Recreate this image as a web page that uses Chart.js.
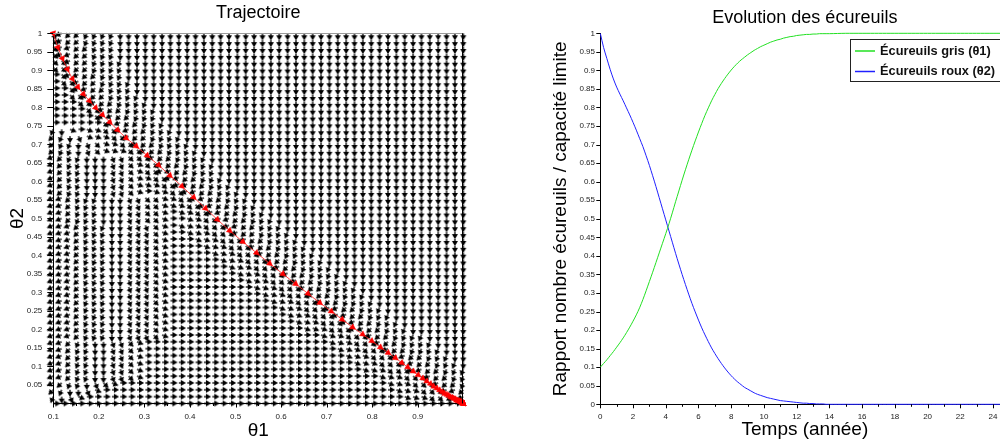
<!DOCTYPE html>
<html lang="fr">
<head>
<meta charset="utf-8">
<title>Écureuils</title>
<script src="https://cdn.jsdelivr.net/npm/chart.js@4.4.1/dist/chart.umd.min.js"></script>
<style>
  html, body { margin: 0; padding: 0; background: #fff; }
  #page { position: relative; width: 1000px; height: 445px; overflow: hidden; }
  #page canvas { position: absolute; top: 0; }
</style>
</head>
<body>
<div id="page">
  <canvas id="trajectoire" width="500" height="445" style="left:0"></canvas>
  <canvas id="evolution" width="520" height="445" style="left:500px"></canvas>
</div>
<script>
// ------------------ DATA ------------------
// time (years) and population ratios
const years = [
  0, 0.2, 0.4, 0.6, 0.8, 1, 1.2, 1.4, 1.6, 1.8,
  2, 2.2, 2.4, 2.6, 2.8, 3, 3.2, 3.4, 3.6, 3.8,
  4, 4.2, 4.4, 4.6, 4.8, 5, 5.2, 5.4, 5.6, 5.8,
  6, 6.2, 6.4, 6.6, 6.8, 7, 7.2, 7.4, 7.6, 7.8,
  8, 8.2, 8.4, 8.6, 8.8, 9, 9.2, 9.4, 9.6, 9.8,
  10, 10.2, 10.4, 10.6, 10.8, 11, 11.2, 11.4, 11.6, 11.8,
  12, 12.2, 12.4, 12.6, 12.8, 13, 13.2, 13.4, 13.6, 13.8,
  14, 15, 16, 17, 18, 19, 20, 21, 22, 23, 24, 25
];
const grisValues = [
  0.100, 0.110, 0.120, 0.131, 0.142, 0.154, 0.166, 0.179, 0.193, 0.208,
  0.224, 0.241, 0.260, 0.282, 0.306, 0.331, 0.356, 0.382, 0.408, 0.434,
  0.460, 0.487, 0.516, 0.546, 0.575, 0.604, 0.632, 0.659, 0.685, 0.710,
  0.734, 0.757, 0.779, 0.799, 0.818, 0.835, 0.851, 0.865, 0.878, 0.890,
  0.901, 0.911, 0.920, 0.928, 0.935, 0.942, 0.948, 0.954, 0.959, 0.964,
  0.968, 0.972, 0.976, 0.979, 0.982, 0.984, 0.987, 0.989, 0.991, 0.992,
  0.994, 0.995, 0.996, 0.997, 0.997, 0.998, 0.998, 0.999, 0.999, 0.999,
  0.999, 1, 1, 1, 1, 1, 1, 1, 1, 1, 1, 1
];
const rouxValues = [
  1.000, 0.962, 0.932, 0.903, 0.877, 0.855, 0.836, 0.818, 0.799, 0.780,
  0.760, 0.739, 0.717, 0.695, 0.670, 0.644, 0.616, 0.587, 0.557, 0.527,
  0.497, 0.467, 0.437, 0.407, 0.378, 0.350, 0.323, 0.297, 0.272, 0.249,
  0.227, 0.206, 0.187, 0.169, 0.152, 0.137, 0.123, 0.110, 0.098, 0.087,
  0.077, 0.068, 0.060, 0.053, 0.046, 0.041, 0.036, 0.031, 0.027, 0.024,
  0.021, 0.018, 0.016, 0.014, 0.012, 0.010, 0.009, 0.008, 0.007, 0.006,
  0.005, 0.004, 0.003, 0.003, 0.002, 0.002, 0.001, 0.001, 0.001, 0.000,
  0, 0, 0, 0, 0, 0, 0, 0, 0, 0, 0, 0
];

// vector field grid (columns = θ1, rows = θ2 from top to bottom)
const fieldTheta1 = [
  0.1000, 0.1184, 0.1367, 0.1551, 0.1735, 0.1918, 0.2102, 0.2286, 0.2469, 0.2653,
  0.2837, 0.3020, 0.3204, 0.3388, 0.3571, 0.3755, 0.3939, 0.4122, 0.4306, 0.4490,
  0.4673, 0.4857, 0.5041, 0.5224, 0.5408, 0.5592, 0.5776, 0.5959, 0.6143, 0.6327,
  0.6510, 0.6694, 0.6878, 0.7061, 0.7245, 0.7429, 0.7612, 0.7796, 0.7980, 0.8163,
  0.8347, 0.8531, 0.8714, 0.8898, 0.9082, 0.9265, 0.9449, 0.9633, 0.9816, 1.0000
];
const fieldTheta2 = [
  1.0000, 0.9815, 0.9630, 0.9444, 0.9259, 0.9074, 0.8889, 0.8704, 0.8519, 0.8333,
  0.8148, 0.7963, 0.7778, 0.7593, 0.7407, 0.7222, 0.7037, 0.6852, 0.6667, 0.6481,
  0.6296, 0.6111, 0.5926, 0.5741, 0.5556, 0.5370, 0.5185, 0.5000, 0.4815, 0.4630,
  0.4444, 0.4259, 0.4074, 0.3889, 0.3704, 0.3519, 0.3333, 0.3148, 0.2963, 0.2778,
  0.2593, 0.2407, 0.2222, 0.2037, 0.1852, 0.1667, 0.1481, 0.1296, 0.1111, 0.0926,
  0.0741, 0.0556, 0.0370, 0.0185, 0.0000
];
// one char per arrow: position in DIRECTION_CODES x 22.5 deg (0 right, 4 up, 8 left, C down), '.' = none
const DIRECTION_CODES = '0123456789ABCDEF';
const fieldRows = [
  'D9AABBBBCC CCCCCCCCCC CCCCCCCCCC CCCCCCCCCC CCCCCCCCCC',
  'E9AABBBBCC CCCCCCCCCC CCCCCCCCCC CCCCCCCCCC CCCCCCCCCC',
  'E99AABBBCC CCCCCCCCCC CCCCCCCCCC CCCCCCCCCC CCCCCCCCCC',
  'E99AABBBCC CCCCCCCCCC CCCCCCCCCC CCCCCCCCCC CCCCCCCCCC',
  'EE9AABBBBC CCCCCCCCCC CCCCCCCCCC CCCCCCCCCC CCCCCCCCCC',
  'EE9AABBBBC CCCCCCCCCC CCCCCCCCCC CCCCCCCCCC CCCCCCCCCC',
  '0E99AABBBC CCCCCCCCCC CCCCCCCCCC CCCCCCCCCC CCCCCCCCCC',
  '0EE9AABBBB CCCCCCCCCC CCCCCCCCCC CCCCCCCCCC CCCCCCCCCC',
  '00E99AABBB CCCCCCCCCC CCCCCCCCCC CCCCCCCCCC CCCCCCCCCC',
  '00EE9AABBB BCCCCCCCCC CCCCCCCCCC CCCCCCCCCC CCCCCCCCCC',
  '000EE9AABB BBCCCCCCCC CCCCCCCCCC CCCCCCCCCC CCCCCCCCCC',
  '0000EE9AAB BBBCCCCCCC CCCCCCCCCC CCCCCCCCCC CCCCCCCCCC',
  '00000E99AA BBBCCCCCCC CCCCCCCCCC CCCCCCCCCC CCCCCCCCCC',
  '000000E99A ABBBCCCCCC CCCCCCCCCC CCCCCCCCCC CCCCCCCCCC',
  'BCF0FFEE99 AABBBCCCCC CCCCCCCCCC CCCCCCCCCC CCCCCCCCCC',
  'ABCDFFFEE9 AABBBBCCCC CCCCCCCCCC CCCCCCCCCC CCCCCCCCCC',
  'ABBCDEFFEE 9AABBBBCCC CCCCCCCCCC CCCCCCCCCC CCCCCCCCCC',
  'ABBCDEFFFE E9AABBBBCC CCCCCCCCCC CCCCCCCCCC CCCCCCCCCC',
  '9ABBCCCDDE EE9AABBBBC CCCCCCCCCC CCCCCCCCCC CCCCCCCCCC',
  '9ABBCCCDDE FEE9AABBBB CCCCCCCCCC CCCCCCCCCC CCCCCCCCCC',
  '9ABBCCCDDE FEE99AABBB CCCCCCCCCC CCCCCCCCCC CCCCCCCCCC',
  '9ABBCCCDDE FFEE99AABB BCCCCCCCCC CCCCCCCCCC CCCCCCCCCC',
  '9ABBCCCDDE FFFEE99AAB BBCCCCCCCC CCCCCCCCCC CCCCCCCCCC',
  '9ABBCCCDDE F0FFEE99AA BBBCCCCCCC CCCCCCCCCC CCCCCCCCCC',
  '99ABBBCCCD DEEFFEE99A ABBBCCCCCC CCCCCCCCCC CCCCCCCCCC',
  '99ABBBCCCD DEEFFFEE99 AABBBCCCCC CCCCCCCCCC CCCCCCCCCC',
  '99ABBBCCCD DEEF0FFEE9 9AABBBCCCC CCCCCCCCCC CCCCCCCCCC',
  '99ABBBCCCD DEEF00FFEE 99AABBBCCC CCCCCCCCCC CCCCCCCCCC',
  '999ABBBCCD DDEF0FFFEE E99AABBBCC CCCCCCCCCC CCCCCCCCCC',
  '999ABBBCCD DDEF00FFFE EE9AABBBBC CCCCCCCCCC CCCCCCCCCC',
  '999ABBBCCD DDEF000FFF EEE9AABBBB CCCCCCCCCC CCCCCCCCCC',
  '999ABBBCCD DDEF0000FF FEEE9AABBB BCCCCCCCCC CCCCCCCCCC',
  '999ABBBCCD DDEF00000F FFEEE9AABB BBCCCCCCCC CCCCCCCCCC',
  '999ABBBCCD DDEF000000 FFFEEE9AAB BBBCCCCCCC CCCCCCCCCC',
  '999ABBBCCD DDEF000000 0FFFEEE9AA BBBBCCCCCC CCCCCCCCCC',
  '999ABBBCCD DDEF000000 00FFFEEE9A ABBBBCCCCC CCCCCCCCCC',
  '999ABBBCCD DDEF000000 000FFFEEE9 AABBBBCCCC CCCCCCCCCC',
  '999ABBBCCD DDEF000000 0000FFFEEE 9AABBBBCCC CCCCCCCCCC',
  '999ABBBCCD DDEF000000 00000FFFEE E9AABBBBCC CCCCCCCCCC',
  '999ABBBCCD DDEF000000 000000FFFE EE9AABBBBC CCCCCCCCCC',
  '999ABBBCCD DDEF000000 0000000FFF EEE99AABBB CCCCCCCCCC',
  '999ABBBCCD DDEF000000 00000000FF FEEE99AABB BCCCCCCCCC',
  '999ABBBCCD DDEF000000 000000000F FFEEE99AAB BBCCCCCCCC',
  '999ABBBCCD DDEF000000 0000000000 FFFEEE99AA BBBCCCCCCC',
  '999ABBBCCD DDEF000000 0000000000 00FFFEEE9A ABBBBCCCCC',
  '99ABBCCDDE F000000000 0000000000 000FFFEEE9 AABBBBCCCC',
  '99ABBCCDDE F000000000 0000000000 0000FFFEEE 9AABBBBCCC',
  '99ABBCCDDE F000000000 0000000000 00000FFFEE E99AABBBCC',
  '99ABBCCDDE F000000000 0000000000 000000FFFE EE99AABBBC',
  '99ABBCCDDE F000000000 0000000000 0000000FFF EEE99AABBB',
  '99ABBCCDDE F000000000 0000000000 000000000F FFEEE9AABB',
  '9ABBCDEF00 0000000000 0000000000 0000000000 FFFEEE9AAB',
  'ABCCDF0000 0000000000 0000000000 0000000000 0FFFEEE99A',
  'BCDF000000 0000000000 0000000000 0000000000 00FFFEEE99',
  '0000000000 0000000000 0000000000 0000000000 000000000.'
];

// tick labels
const trajXTicks = [0.1, 0.2, 0.3, 0.4, 0.5, 0.6, 0.7, 0.8, 0.9];
const trajXMinor = [0.15, 0.25, 0.35, 0.45, 0.55, 0.65, 0.75, 0.85, 0.95];
const trajYTicks = [0.05, 0.1, 0.15, 0.2, 0.25, 0.3, 0.35, 0.4, 0.45, 0.5,
                    0.55, 0.6, 0.65, 0.7, 0.75, 0.8, 0.85, 0.9, 0.95, 1];
const evoXTicks = [0, 2, 4, 6, 8, 10, 12, 14, 16, 18, 20, 22, 24];
const evoXMinor = [1, 3, 5, 7, 9, 11, 13, 15, 17, 19, 21, 23, 25];
const evoYTicks = [0, 0.05, 0.1, 0.15, 0.2, 0.25, 0.3, 0.35, 0.4, 0.45, 0.5,
                   0.55, 0.6, 0.65, 0.7, 0.75, 0.8, 0.85, 0.9, 0.95, 1];

// ------------------ HELPERS ------------------
Chart.defaults.font.family = '"Liberation Sans", Arial, Helvetica, sans-serif';
Chart.defaults.color = '#222';

function makeArrowGlyph() {
    // champ-like arrow starting at the canvas centre, pointing right
    const cv = document.createElement('canvas');
    cv.width = 20;
    cv.height = 20;
    const g = cv.getContext('2d');
    g.strokeStyle = '#000';
    g.fillStyle = '#000';
    g.lineWidth = 1.3;
    g.beginPath();
    g.moveTo(10, 10);
    g.lineTo(13, 10);
    g.stroke();
    g.beginPath();
    g.moveTo(17.2, 10);
    g.lineTo(12, 7.1);
    g.lineTo(12, 12.9);
    g.closePath();
    g.fill();
    return cv;
}

function axis(o) {
    return {
        type: 'linear',
        min: o.min,
        max: o.max,
        afterBuildTicks: s => { s.ticks = o.ticks.map(v => ({ value: v })); },
        afterFit: s => {
            if (o.width) s.width = o.width;
            if (o.height) s.height = o.height;
        },
        grid: { drawOnChartArea: false, drawTicks: false },
        border: { color: '#000', width: 1 },
        ticks: {
            padding: o.pad, color: '#222', font: { size: 8 },
            autoSkip: false, maxRotation: 0, callback: v => String(v)
        },
        title: { display: true, text: o.title, color: '#000', font: { size: 19 }, padding: o.titlePad }
    };
}

function tickMarksPlugin(cfg) {
    return {
        id: 'tickMarks',
        afterDraw(chart) {
            const { ctx, chartArea: a, scales: { x, y } } = chart;
            ctx.save();
            ctx.strokeStyle = '#000';
            ctx.lineWidth = 1;
            ctx.beginPath();
            const down = (vals, len) => vals.forEach(v => {
                const px = Math.round(x.getPixelForValue(v)) + 0.5;
                ctx.moveTo(px, a.bottom);
                ctx.lineTo(px, a.bottom + len);
            });
            const left = (vals, len) => vals.forEach(v => {
                const py = Math.round(y.getPixelForValue(v)) + 0.5;
                ctx.moveTo(a.left, py);
                ctx.lineTo(a.left - len, py);
            });
            down(cfg.xMajor, cfg.xMajorLen);
            down(cfg.xMinor, cfg.xMinorLen);
            left(cfg.yMajor, cfg.yMajorLen);
            ctx.stroke();
            ctx.restore();
        }
    };
}

const framePlugin = {
    id: 'frame',
    afterDraw(chart) {
        const { ctx, chartArea: a } = chart;
        ctx.save();
        ctx.lineWidth = 1;
        ctx.strokeStyle = '#9a9a9a';
        ctx.beginPath();
        ctx.moveTo(a.left, Math.round(a.top) + 0.5);
        ctx.lineTo(a.right, Math.round(a.top) + 0.5);
        ctx.stroke();
        ctx.strokeStyle = '#000';
        ctx.beginPath();
        ctx.moveTo(Math.round(a.right) - 0.5, a.top);
        ctx.lineTo(Math.round(a.right) - 0.5, a.bottom);
        ctx.stroke();
        ctx.restore();
    }
};

const boxLegendPlugin = {
    id: 'boxLegend',
    afterDraw(chart) {
        const ctx = chart.ctx;
        const x = 350, y = 39, w = 170, h = 42;
        ctx.save();
        ctx.fillStyle = '#fff';
        ctx.fillRect(x, y, w, h);
        ctx.strokeStyle = '#222';
        ctx.lineWidth = 1;
        ctx.strokeRect(x + 0.5, y + 0.5, w, h);
        ctx.font = 'bold 12.8px "Liberation Sans", Arial, sans-serif';
        ctx.textBaseline = 'middle';
        chart.data.datasets.forEach((ds, i) => {
            const ly = y + 12 + i * 20.5;
            ctx.strokeStyle = ds.borderColor;
            ctx.lineWidth = 1.5;
            ctx.beginPath();
            ctx.moveTo(x + 5, ly);
            ctx.lineTo(x + 25, ly);
            ctx.stroke();
            ctx.fillStyle = '#111';
            ctx.fillText(ds.label, x + 30, ly);
        });
        ctx.restore();
    }
};

// heading of each trajectory marker, from the next distinct point on screen
function headingRotation(points) {
    return function (ctx) {
        if (ctx.type !== 'data') return 0;
        const { x: sx, y: sy } = ctx.chart.scales;
        const px = p => [sx.getPixelForValue(p.x), sy.getPixelForValue(p.y)];
        const i = ctx.dataIndex;
        const here = px(points[i]);
        for (let j = i + 1; j < points.length; j++) {
            const n = px(points[j]);
            if (Math.hypot(n[0] - here[0], n[1] - here[1]) > 0.5) {
                return Math.atan2(n[1] - here[1], n[0] - here[0]) * 180 / Math.PI + 90;
            }
        }
        for (let j = i - 1; j >= 0; j--) {
            const p = px(points[j]);
            if (Math.hypot(here[0] - p[0], here[1] - p[1]) > 0.5) {
                return Math.atan2(here[1] - p[1], here[0] - p[0]) * 180 / Math.PI + 90;
            }
        }
        return 135;
    };
}

// ------------------ TRAJECTOIRE ------------------
const arrowPoints = [];
const arrowRotations = [];
fieldRows.forEach((row, r) => {
    const codes = row.replace(/ /g, '');
    for (let c = 0; c < codes.length && c < fieldTheta1.length; c++) {
        const idx = DIRECTION_CODES.indexOf(codes[c]);
        if (idx < 0) continue;
        arrowPoints.push({ x: fieldTheta1[c], y: fieldTheta2[r] });
        arrowRotations.push(-idx * 22.5);
    }
});
const trajectory = grisValues.map((g, i) => ({ x: g, y: rouxValues[i] }));

new Chart(document.getElementById('trajectoire'), {
    type: 'scatter',
    data: {
        datasets: [{
            label: 'Trajectoire',
            data: trajectory,
            showLine: true,
            borderColor: 'rgba(255, 40, 40, 0.85)',
            borderWidth: 1,
            pointStyle: 'triangle',
            pointRadius: 3.4,
            pointBackgroundColor: '#ff0000',
            pointBorderColor: '#ff0000',
            pointBorderWidth: 0.5,
            pointRotation: headingRotation(trajectory),
            clip: false
        }, {
            label: 'Champ',
            data: arrowPoints,
            showLine: false,
            pointStyle: makeArrowGlyph(),
            pointRadius: 3,
            pointRotation: arrowRotations,
            clip: false
        }]
    },
    options: {
        responsive: false,
        animation: false,
        events: [],
        layout: { padding: { left: 0, right: 36.7, top: 0, bottom: 0 } },
        plugins: {
            legend: { display: false },
            tooltip: { enabled: false },
            title: {
                display: true, text: 'Trajectoire', fullSize: false, color: '#000',
                font: { size: 18, weight: 'normal' }, padding: { top: 2.5, bottom: 9.2 }
            }
        },
        scales: {
            x: axis({ min: 0.1, max: 1, ticks: trajXTicks, height: 41.5, pad: 8,
                      title: 'θ1', titlePad: { top: 0, bottom: 2.6 } }),
            y: axis({ min: 0, max: 1, ticks: trajYTicks, width: 53.3, pad: 11,
                      title: 'θ2', titlePad: { top: 6.6, bottom: 0 } })
        }
    },
    plugins: [
        tickMarksPlugin({ xMajor: trajXTicks, xMinor: trajXMinor, yMajor: trajYTicks,
                          xMajorLen: 4, xMinorLen: 2.5, yMajorLen: 6 }),
        framePlugin
    ]
});

// ------------------ EVOLUTION ------------------
new Chart(document.getElementById('evolution'), {
    type: 'scatter',
    data: {
        datasets: [{
            label: 'Écureuils gris (θ1)',
            data: years.map((t, i) => ({ x: t, y: grisValues[i] })),
            showLine: true,
            borderColor: '#22e022',
            borderWidth: 1,
            tension: 0.3,
            pointRadius: 0,
            clip: false
        }, {
            label: 'Écureuils roux (θ2)',
            data: years.map((t, i) => ({ x: t, y: rouxValues[i] })),
            showLine: true,
            borderColor: '#2020ff',
            borderWidth: 1,
            tension: 0.3,
            pointRadius: 0,
            clip: false
        }]
    },
    options: {
        responsive: false,
        animation: false,
        events: [],
        layout: { padding: { left: 0, right: 10.6, top: 0, bottom: 0 } },
        plugins: {
            legend: { display: false },
            tooltip: { enabled: false },
            title: {
                display: true, text: 'Evolution des écureuils', fullSize: false, color: '#000',
                font: { size: 18, weight: 'normal' }, padding: { top: 7.7, bottom: 4 }
            }
        },
        scales: {
            x: axis({ min: 0, max: 25, ticks: evoXTicks, height: 40.7, pad: 7.5,
                      title: 'Temps (année)', titlePad: { top: 0, bottom: 4 } }),
            y: axis({ min: 0, max: 1, ticks: evoYTicks, width: 100.3, pad: 5.3,
                      title: 'Rapport nombre écureuils / capacité limite', titlePad: { top: 49.6, bottom: 0 } })
        }
    },
    plugins: [
        tickMarksPlugin({ xMajor: evoXTicks, xMinor: evoXMinor, yMajor: evoYTicks,
                          xMajorLen: 4, xMinorLen: 2.5, yMajorLen: 4 }),
        boxLegendPlugin
    ]
});
</script>
</body>
</html>
